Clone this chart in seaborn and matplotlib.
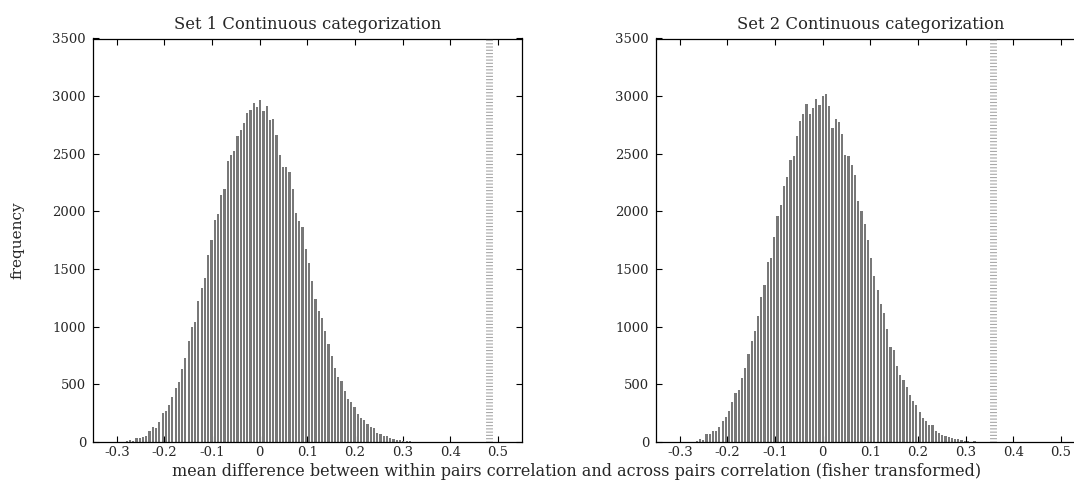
import numpy as np
import pandas as pd
import matplotlib
matplotlib.use("Agg")
import matplotlib.pyplot as plt
import seaborn as sns

# ---------------- data ----------------
titles = ["Set 1 Continuous categorization", "Set 2 Continuous categorization"]

set1_counts = [9, 17, 9, 29, 29, 38, 46, 95, 124, 116,
               174, 249, 269, 321, 385, 466, 515, 631, 726, 871,
               998, 1036, 1218, 1331, 1420, 1623, 1750, 1927, 1976, 2141,
               2193, 2433, 2491, 2523, 2656, 2708, 2763, 2853, 2879, 2936,
               2902, 2965, 2873, 2910, 2792, 2800, 2662, 2491, 2381, 2387,
               2343, 2193, 1985, 1918, 1866, 1672, 1548, 1397, 1238, 1131,
               1073, 958, 848, 746, 636, 564, 529, 437, 370, 344,
               301, 243, 205, 188, 153, 124, 116, 78, 69, 49,
               49, 35, 23, 14, 14, 9, 9, 9]
set1_first_bin = -0.279
set1_bin_width = 0.00683
set1_observed = 0.482

set2_counts = [9, 20, 17, 64, 64, 90, 90, 130, 182, 217,
               266, 347, 419, 446, 550, 639, 764, 877, 963, 1091,
               1253, 1357, 1556, 1594, 1779, 1961, 2054, 2222, 2294, 2447,
               2482, 2653, 2780, 2841, 2931, 2844, 2896, 2974, 2922, 3003,
               3017, 2910, 2725, 2800, 2772, 2670, 2491, 2476, 2404, 2315,
               2086, 1999, 1889, 1750, 1597, 1435, 1313, 1198, 1117, 978,
               822, 793, 657, 581, 535, 472, 408, 350, 315, 260,
               205, 176, 145, 142, 95, 75, 58, 46, 38, 29,
               23, 23, 14, 9, 9, 0, 9]
set2_first_bin = -0.2644
set2_bin_width = 0.00678
set2_observed = 0.357

x_ticks = [-0.3, -0.2, -0.1, 0.0, 0.1, 0.2, 0.3, 0.4, 0.5]
x_tick_labels = ["-0.3", "-0.2", "-0.1", "0", "0.1", "0.2", "0.3", "0.4", "0.5"]
y_ticks = [0, 500, 1000, 1500, 2000, 2500, 3000, 3500]
y_tick_labels = ["0", "500", "1000", "1500", "2000", "2500", "3000", "3500"]

y_label = "frequency"
x_label = ("mean difference between within pairs correlation and across pairs "
           "correlation (fisher transformed)")

# ---------------- style ----------------
sns.set_style("ticks")
plt.rcParams["font.family"] = ["DejaVu Serif"]
plt.rcParams["lines.scale_dashes"] = False

fig = plt.figure(figsize=(10.74, 4.80), dpi=100)
ax_w, ax_h = 428.7 / 1074, 403.2 / 480
ax_b = (480 - 441.7) / 480
axes = [fig.add_axes([93 / 1074, ax_b, ax_w, ax_h]),
        fig.add_axes([656 / 1074, ax_b, ax_w, ax_h])]

sets = [(set1_counts, set1_first_bin, set1_bin_width, set1_observed),
        (set2_counts, set2_first_bin, set2_bin_width, set2_observed)]

for i, (ax, title, (counts, first, width, obs)) in enumerate(zip(axes, titles, sets)):
    n = len(counts)
    centers = first + width * np.arange(n)
    edges = [float(c - width / 2) for c in centers] + [float(centers[-1] + width / 2)]
    df = pd.DataFrame({"value": centers, "count": np.asarray(counts, dtype=float)})
    sns.histplot(data=df, x="value", weights="count", bins=edges,
                 shrink=0.68, color="#787878", alpha=1.0, linewidth=0,
                 edgecolor="none", ax=ax)
    ax.vlines(obs, 0, 3500, colors="#a8a8a8", linewidth=5.0,
              linestyles=(0, (0.8, 1.55)), zorder=3)
    ax.set_xlim(-0.35, 0.55)
    ax.set_ylim(0, 3500)
    ax.set_xticks(x_ticks)
    ax.set_xticklabels(x_tick_labels)
    ax.set_yticks(y_ticks)
    ax.set_yticklabels(y_tick_labels)
    ax.tick_params(direction="in", length=4, width=0.8, top=True, right=(i == 0),
                   labelsize=9.5, color="black")
    ax.tick_params(axis="x", pad=3)
    ax.tick_params(axis="y", pad=5)
    for name, sp in ax.spines.items():
        sp.set_visible(True)
        sp.set_linewidth(0.9)
        sp.set_color("black")
    if i == 1:
        ax.spines["right"].set_visible(False)
    ax.set_xlabel("")
    ax.set_ylabel("")
    ax.set_title(title, fontsize=11.8, pad=7)

axes[0].set_ylabel(y_label, fontsize=11, labelpad=20)
fig.text(577 / 1074, 1 - 471 / 480, x_label, ha="center", va="center",
         fontsize=11.5)

fig.savefig("out.png", dpi=100, facecolor="white")
